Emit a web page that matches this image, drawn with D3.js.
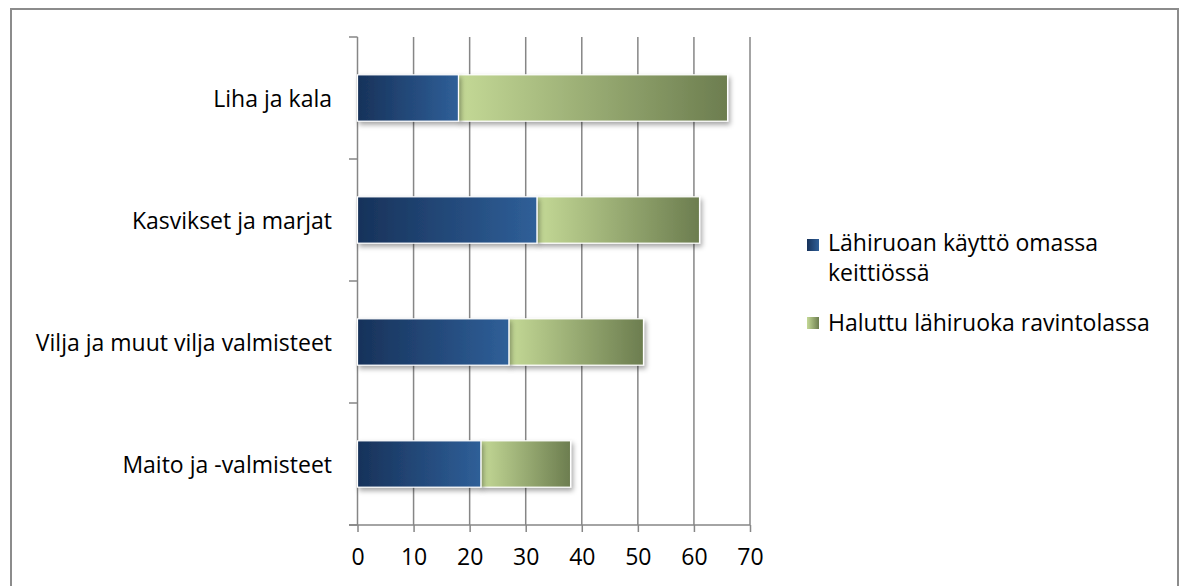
<!DOCTYPE html>
<html>
<head>
<meta charset="utf-8">
<script src="https://cdn.jsdelivr.net/npm/d3@7"></script>
<style>
  body { margin: 0; background: #fff; }
  svg { display: block; font-family: "Open Sans", sans-serif; }
</style>
</head>
<body>
<svg width="1184" height="586"></svg>
<script>
const categories = ["Liha ja kala", "Kasvikset ja marjat", "Vilja ja muut vilja valmisteet", "Maito ja -valmisteet"];
const omaKeittio = [18, 32, 27, 22];
const ravintola = [48, 29, 24, 16];
const seriesNames = ["Lähiruoan käyttö omassa keittiössä", "Haluttu lähiruoka ravintolassa"];
const xTicks = [0, 10, 20, 30, 40, 50, 60, 70];

const svg = d3.select("svg");
const fontSize = "23px";

// outer frame
svg.append("rect")
    .attr("x", 11).attr("y", 9)
    .attr("width", 1167).attr("height", 600)
    .attr("fill", "none")
    .attr("stroke", "#8c8c8c")
    .attr("stroke-width", 2);

const plotLeft = 357.5, plotRight = 750, plotTop = 37, plotBottom = 525;

const x = d3.scaleLinear().domain([0, 70]).range([plotLeft, plotRight]);
const y = d3.scaleBand().domain(categories).range([plotTop, plotBottom]).paddingInner(0.62).paddingOuter(0.31);

const defs = svg.append("defs");
function grad(id, c1, c2) {
    const g = defs.append("linearGradient").attr("id", id)
        .attr("x1", "0%").attr("x2", "100%").attr("y1", "0%").attr("y2", "0%");
    g.append("stop").attr("offset", "0%").attr("stop-color", c1);
    g.append("stop").attr("offset", "100%").attr("stop-color", c2);
}
grad("gBlue", "#17325a", "#2f5f98");
grad("gGreen", "#c4d996", "#6c7d4f");

const f = defs.append("filter").attr("id", "shadow")
    .attr("x", "-5%").attr("y", "-20%").attr("width", "115%").attr("height", "150%");
f.append("feDropShadow").attr("dx", 2).attr("dy", 3).attr("stdDeviation", 2.5)
    .attr("flood-color", "#000").attr("flood-opacity", 0.35);

// gridlines
svg.append("g")
    .selectAll("line")
    .data(xTicks.slice(1))
    .join("line")
    .attr("x1", d => x(d)).attr("x2", d => x(d))
    .attr("y1", plotTop).attr("y2", plotBottom)
    .attr("stroke", "#868686").attr("stroke-width", 1.5);

// x axis
const xAxis = d3.axisBottom(x).tickValues(xTicks).tickSize(7).tickPadding(17);
const gx = svg.append("g").attr("transform", `translate(0,${plotBottom})`).call(xAxis);
gx.select(".domain").remove();
gx.append("line").attr("x1", 349).attr("x2", plotRight).attr("stroke", "#868686").attr("stroke-width", 1.5);
gx.selectAll(".tick line").attr("stroke", "#868686").attr("stroke-width", 1.5);
gx.selectAll(".tick text").attr("fill", "#000").style("font-size", fontSize).style("font-family", "'Open Sans', sans-serif");

// y axis
svg.append("line").attr("x1", plotLeft).attr("x2", plotLeft).attr("y1", plotTop).attr("y2", plotBottom)
    .attr("stroke", "#868686").attr("stroke-width", 1.5);
const bandEdges = d3.range(categories.length + 1).map(i => plotTop + i * (plotBottom - plotTop) / categories.length);
svg.append("g").selectAll("line").data(bandEdges).join("line")
    .attr("x1", 349).attr("x2", plotLeft).attr("y1", d => d).attr("y2", d => d)
    .attr("stroke", "#868686").attr("stroke-width", 1.5);

svg.append("g").selectAll("text").data(categories).join("text")
    .attr("x", 332)
    .attr("y", d => y(d) + y.bandwidth() / 2)
    .attr("text-anchor", "end")
    .attr("dominant-baseline", "central")
    .style("font-size", fontSize)
    .text(d => d);

// bars
const bars = svg.append("g");
categories.forEach((c, i) => {
    const a = omaKeittio[i], b = ravintola[i];
    bars.append("rect")
        .attr("x", x(a)).attr("y", y(c))
        .attr("width", x(a + b) - x(a)).attr("height", y.bandwidth())
        .attr("fill", "url(#gGreen)")
        .attr("stroke", "#fff").attr("stroke-width", 1.2)
        .attr("filter", "url(#shadow)");
    bars.append("rect")
        .attr("x", x(0)).attr("y", y(c))
        .attr("width", x(a) - x(0)).attr("height", y.bandwidth())
        .attr("fill", "url(#gBlue)")
        .attr("stroke", "#fff").attr("stroke-width", 1.2)
        .attr("filter", "url(#shadow)");
});

// legend
const legend = svg.append("g").attr("transform", "translate(807,0)");
legend.append("rect").attr("x", 0).attr("y", 239).attr("width", 12).attr("height", 12).attr("fill", "url(#gBlue)");
legend.append("text").attr("x", 21).attr("y", 251).style("font-size", fontSize)
    .selectAll("tspan").data(["Lähiruoan käyttö omassa", "keittiössä"]).join("tspan")
    .attr("x", 21).attr("dy", (d, i) => i ? 30 : 0).text(d => d);
legend.append("rect").attr("x", 0).attr("y", 317).attr("width", 12).attr("height", 12).attr("fill", "url(#gGreen)");
legend.append("text").attr("x", 21).attr("y", 331).style("font-size", fontSize).text(seriesNames[1]);
</script>
</body>
</html>
